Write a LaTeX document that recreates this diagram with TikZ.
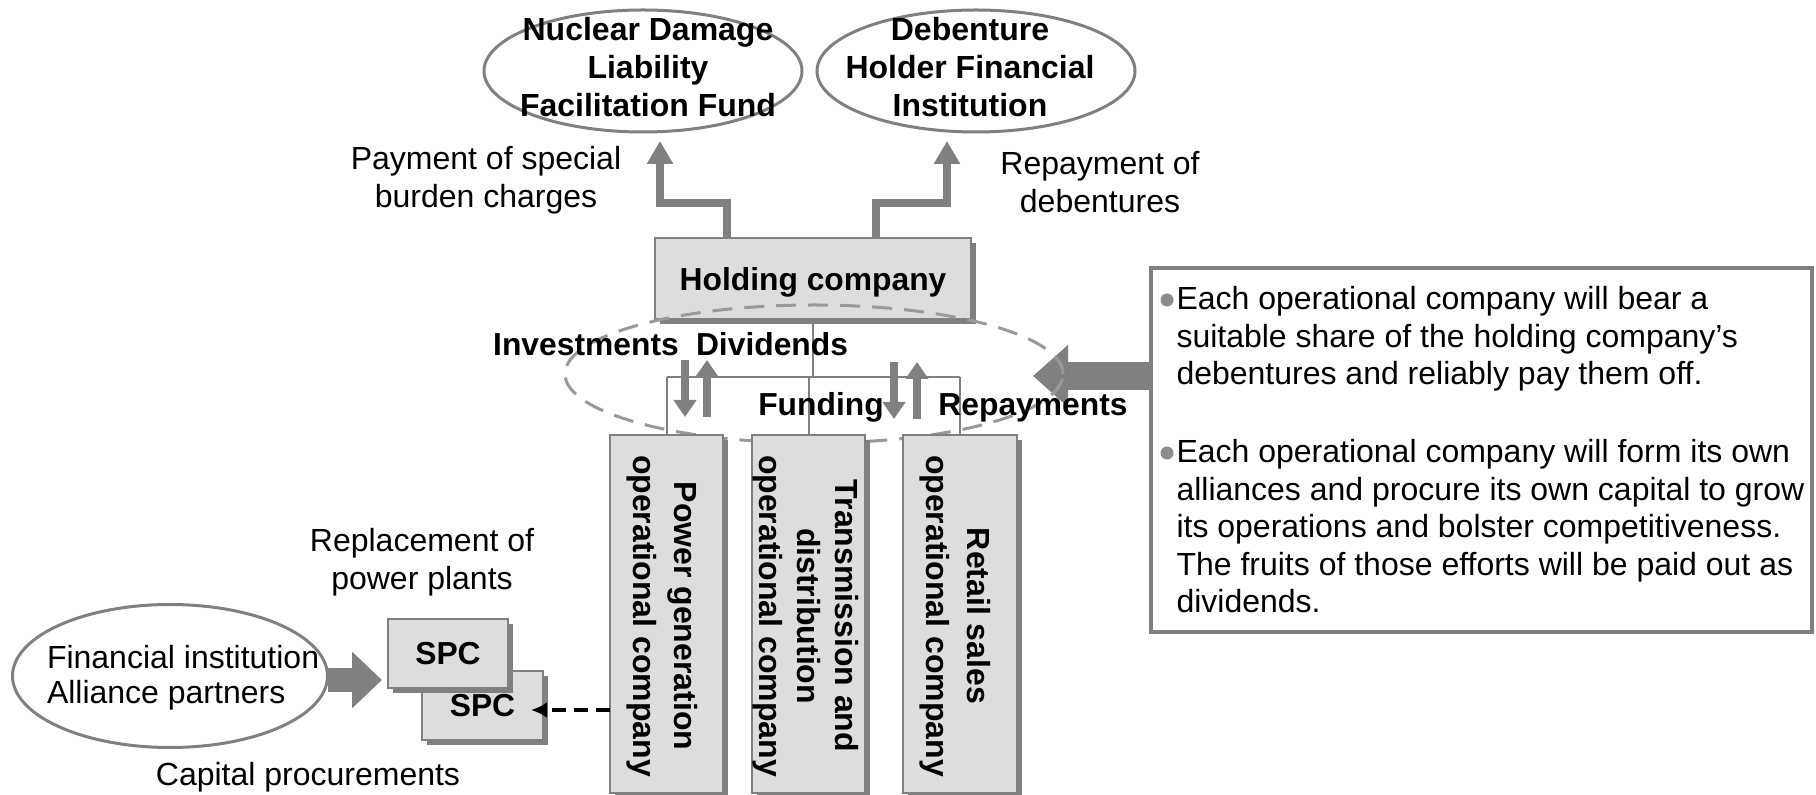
\documentclass[tikz,border=0pt]{standalone}
\usepackage{fontspec}
\setmainfont{Liberation Sans}
\usepackage{graphicx}
\usetikzlibrary{shapes.geometric,arrows.meta,shadows,calc}
\definecolor{boxfill}{HTML}{DDDDDD}
\definecolor{edgegray}{HTML}{808080}
\definecolor{shadegray}{HTML}{808080}
\definecolor{arrowgray}{HTML}{808080}
\definecolor{dashgray}{HTML}{999999}
\definecolor{dotgray}{HTML}{8C8C8C}
\newcommand{\mlines}[3]{{\fontsize{16pt}{#1}\selectfont\begin{tabular}[t]{@{}#2@{}}#3\end{tabular}}}
\begin{document}
\begin{tikzpicture}[x=0.5pt,y=-0.5pt,
  every node/.style={inner sep=0pt,outer sep=0pt},
  lab/.style={font=\fontsize{16pt}{18.75pt}\selectfont},
  blab/.style={font=\fontsize{15.9pt}{19pt}\selectfont\bfseries},
  orgbox/.style={draw=edgegray,line width=1pt,fill=boxfill,
     drop shadow={shadow xshift=2.5pt,shadow yshift=-2.5pt,opacity=1,fill=shadegray}},
  party/.style={ellipse,draw=edgegray,line width=1.5pt,fill=white},
  flowup/.style={draw=arrowgray,line width=4pt,-{Triangle[width=12.5pt,length=11.5pt]}},
  flowsmall/.style={draw=arrowgray,line width=4pt,-{Triangle[width=11pt,length=8.5pt]}},
  tree/.style={draw=edgegray,line width=1pt},
  dot/.style={circle,fill=dotgray,minimum size=6.5pt},
]
\useasboundingbox (0,0) rectangle (1816,795);
\clip (0,0) rectangle (1816,795);

% top parties
\node[party,minimum width=159pt,minimum height=61pt] (nuc) at (643,71) {};
\node[blab,anchor=base] (nucT) at (648,41) {\mlines{19pt}{c}{Nuclear Damage\\Liability\\Facilitation Fund}};
\node[party,minimum width=159pt,minimum height=61pt] (deb) at (976,71) {};
\node[blab,anchor=base] (debT) at (970,41) {\mlines{19pt}{c}{Debenture\\Holder Financial\\Institution}};

\node[lab,anchor=base] (payT) at (486,170) {\mlines{19pt}{c}{Payment of special\\burden charges}};
\node[lab,anchor=base] (repT) at (1100,175) {\mlines{19pt}{c}{Repayment of\\debentures}};

% holding company
\node[orgbox,blab,text depth=0pt,minimum width=158pt,minimum height=40.5pt] (hold) at (813,278.5) {Holding company};
\draw[flowup] ($(hold.north)+(-86,0)$) -- ++(0,-35) -| ($(nuc.south)+(17,9)$);
\draw[flowup] ($(hold.north)+(63,0)$) -- ++(0,-35) -| ($(deb.south)+(-29,9)$);

% note box
\node[draw=edgegray,line width=1.75pt,fill=white,minimum width=330.5pt,minimum height=182pt] (note) at (1481.5,450) {};
\node[dot] (dot1) at (1167,300) {};
\node[lab,anchor=base west] (para1) at (1176.5,310) {\mlines{18.75pt}{l}{Each operational company will bear a\\suitable share of the holding company’s\\debentures and reliably pay them off.}};
\node[dot] (dot2) at (1167,453) {};
\node[lab,anchor=base west] (para2) at (1176.5,463) {\mlines{18.75pt}{l}{Each operational company will form its own\\alliances and procure its own capital to grow\\its operations and bolster competitiveness.\\The fruits of those efforts will be paid out as\\dividends.}};

% big arrow
\coordinate (bigtip) at (1033,376);
\draw[draw=arrowgray,line width=14pt,-{Triangle[width=30pt,length=17.5pt]}] (note.west |- bigtip) -- (bigtip);

% dashed group ellipse
\node[ellipse,draw=dashgray,line width=1.5pt,dash pattern=on 10pt off 6pt,minimum width=249pt,minimum height=69pt] (grp) at (814,374) {};

% operational companies
\node[orgbox,minimum width=56.5pt,minimum height=179pt] (op1) at (666.5,614) {};
\node[blab] (op1T) at ($(op1.center)+(-4,2)$) {\rotatebox{-90}{\mlines{20.5pt}{c}{Power generation\\operational company}}};
\node[orgbox,minimum width=56.5pt,minimum height=179pt] (op2) at (808.5,614) {};
\node[blab] (op2T) at ($(op2.center)+(-3,2)$) {\rotatebox{-90}{\mlines{19pt}{c}{Transmission and\\distribution\\operational company}}};
\node[orgbox,minimum width=57pt,minimum height=179pt] (op3) at (960,614) {};
\node[blab] (op3T) at ($(op3.center)+(-5,2)$) {\rotatebox{-90}{\mlines{20.5pt}{c}{Retail sales\\operational company}}};

% tree
\coordinate (busy) at (814,377);
\draw[tree] (hold.south) -- (hold.south |- busy);
\draw[tree] (op1.north |- busy) -- (op3.north |- busy);
\draw[tree] (op1.north |- busy) -- (op1.north);
\draw[tree] (op2.north |- busy) -- (op2.north);
\draw[tree] (op3.north |- busy) -- (op3.north);

% small flow arrows
\coordinate (invA) at (685,360); \coordinate (invB) at (685,417);
\coordinate (divA) at (707,417); \coordinate (divB) at (707,360);
\coordinate (funA) at (894,362); \coordinate (funB) at (894,419);
\coordinate (rpyA) at (917,419); \coordinate (rpyB) at (917,362);
\draw[flowsmall] (invA) -- (invB);
\draw[flowsmall] (divA) -- (divB);
\draw[flowsmall] (funA) -- (funB);
\draw[flowsmall] (rpyA) -- (rpyB);

\node[blab,anchor=base] (invT) at (586,356) {Investments};
\node[blab,anchor=base] (divT) at (772,356) {Dividends};
\node[blab,anchor=base] (funT) at (821,416) {Funding};
\node[blab,anchor=base] (rpyT) at (1033,416) {Repayments};

% bottom left
\node[lab,anchor=base] (replT) at (422,552) {\mlines{19pt}{c}{Replacement of\\power plants}};
\node[party,minimum width=157.5pt,minimum height=71.5pt] (fin) at (170,676) {};
\node[lab,anchor=base west] (finT) at (47,669) {\mlines{17.25pt}{l}{Financial institution\\Alliance partners}};
\coordinate (fintip) at (382,680);
\draw[draw=arrowgray,line width=12pt,-{Triangle[width=27.5pt,length=15pt]}] (fin.east |- fintip) -- (fintip);

\node[orgbox,blab,minimum width=60.5pt,minimum height=34.5pt] (spc2) at (482.5,705.5) {SPC};
\node[orgbox,blab,minimum width=60pt,minimum height=34.5pt] (spc1) at (448,653.5) {SPC};

\coordinate (spcin) at (531,710);
\draw[black,line width=2pt,dash pattern=on 7pt off 4pt,-{Latex[length=8pt,width=8pt]}] (op1.west |- spcin) -- (spcin);

\node[lab,anchor=base] (capT) at (308,786) {Capital procurements};
\end{tikzpicture}
\end{document}
